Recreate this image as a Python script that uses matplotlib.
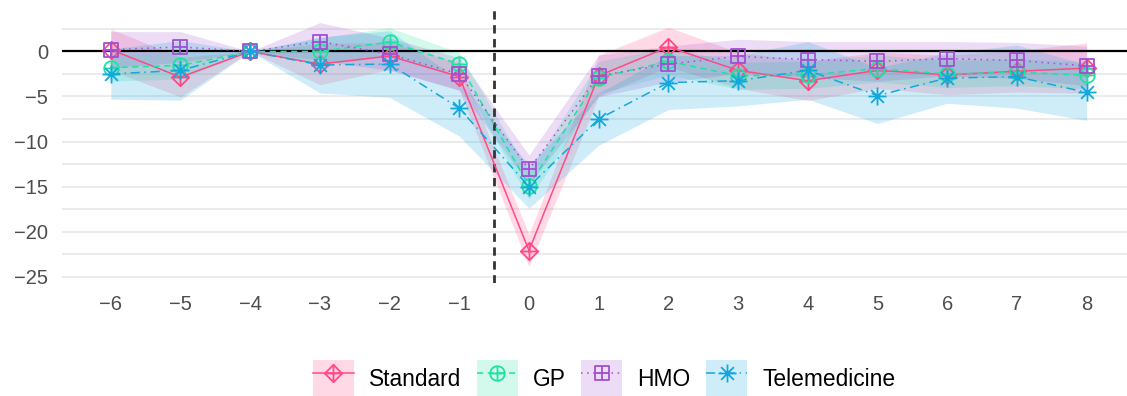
import numpy as np
import matplotlib
matplotlib.use("Agg")
import matplotlib.pyplot as plt
from matplotlib.path import Path
from matplotlib.patches import Patch
from matplotlib.lines import Line2D
from matplotlib.ticker import MultipleLocator

plt.rcParams["font.family"] = ["Liberation Sans", "DejaVu Sans"]

# Event time relative to the policy change
weeks = [-6, -5, -4, -3, -2, -1, 0, 1, 2, 3, 4, 5, 6, 7, 8]
x_labels = ["\u22126", "\u22125", "\u22124", "\u22123", "\u22122", "\u22121",
            "0", "1", "2", "3", "4", "5", "6", "7", "8"]

# Point estimates and confidence bounds per plan type
standard = [0.2, -2.85, 0.0, -1.4, -0.5, -2.8, -22.1, -2.7, 0.5, -2.1, -3.25, -2.1, -2.6, -2.2, -1.85]
standard_lo = [-2.1, -5.05, 0.0, -3.7, -2.0, -4.3, -23.9, -5.0, -1.7, -4.1, -5.45, -4.1, -4.8, -4.5, -4.65]
standard_hi = [2.5, -0.65, 0.0, 0.9, 1.0, -1.3, -20.3, -0.4, 2.7, -0.1, -1.05, -0.1, -0.4, 0.1, 0.95]

gp = [-1.8, -1.55, 0.0, 0.0, 1.05, -1.4, -14.9, -2.9, -1.1, -2.7, -2.6, -1.9, -2.5, -2.3, -2.65]
gp_lo = [-3.3, -3.05, 0.0, -1.5, -0.55, -2.65, -16.4, -4.7, -2.6, -4.2, -4.1, -3.4, -4.0, -3.8, -4.15]
gp_hi = [-0.3, -0.05, 0.0, 1.5, 2.65, -0.15, -13.4, -1.1, 0.4, -1.2, -1.1, -0.4, -1.0, -0.8, -1.15]

hmo = [0.2, 0.5, 0.0, 1.1, -0.3, -2.5, -13.1, -2.7, -1.4, -0.55, -0.9, -1.1, -0.8, -1.0, -1.6]
hmo_lo = [-1.8, -1.2, 0.0, -1.0, -2.1, -4.3, -14.7, -5.0, -3.4, -2.45, -2.9, -3.3, -2.7, -3.0, -3.8]
hmo_hi = [2.2, 2.2, 0.0, 3.2, 1.5, -0.7, -11.5, -0.4, 0.6, 1.35, 1.1, 1.1, 1.1, 1.0, 0.6]

tele = [-2.5, -2.1, 0.0, -1.5, -1.4, -6.3, -15.0, -7.5, -3.45, -3.25, -2.1, -4.9, -2.95, -2.8, -4.55]
tele_lo = [-5.3, -5.4, 0.0, -4.6, -5.1, -9.4, -17.4, -10.4, -6.45, -6.05, -5.3, -8.0, -5.75, -6.3, -7.65]
tele_hi = [0.3, 1.2, 0.0, 1.6, 2.3, -3.2, -12.6, -4.6, -0.45, -0.45, 1.1, -1.8, -0.15, 0.7, -1.45]

series_names = ["Standard", "GP", "HMO", "Telemedicine"]
colors = ["#FF4A86", "#1EE3A0", "#A050D0", "#12A8DD"]

# Open marker glyphs: diamond-plus, circle-plus, square-plus, asterisk
cross = Path([(-1, 0), (1, 0), (0, -1), (0, 1)],
             [Path.MOVETO, Path.LINETO, Path.MOVETO, Path.LINETO])
diamond = Path([(0, 1), (1, 0), (0, -1), (-1, 0), (0, 1)],
               [Path.MOVETO, Path.LINETO, Path.LINETO, Path.LINETO, Path.CLOSEPOLY])
square = Path([(-1, -1), (1, -1), (1, 1), (-1, 1), (-1, -1)],
              [Path.MOVETO, Path.LINETO, Path.LINETO, Path.LINETO, Path.CLOSEPOLY])
d = np.sqrt(0.5)
asterisk = Path([(-1, 0), (1, 0), (0, -1), (0, 1), (-d, -d), (d, d), (-d, d), (d, -d)],
                [Path.MOVETO, Path.LINETO] * 4)
markers = [Path.make_compound_path(diamond, cross),
           Path.make_compound_path(Path.unit_circle(), cross),
           Path.make_compound_path(square, cross),
           asterisk]
marker_sizes = [12.5, 10.5, 9.6, 13.0]
linestyles = ["-", (0, (4, 3)), (0, (1, 3)), (0, (6, 3, 1, 3))]

fig = plt.figure(figsize=(11.27, 3.96), dpi=100)
ax = fig.add_axes([62 / 1127, 1 - 283 / 396, 1 - 62 / 1127, (283 - 10) / 396])

data = [(standard, standard_lo, standard_hi),
        (gp, gp_lo, gp_hi),
        (hmo, hmo_lo, hmo_hi),
        (tele, tele_lo, tele_hi)]

for (vals, lo, hi), c in zip(data, colors):
    ax.fill_between(weeks, lo, hi, color=c, alpha=0.2, lw=0, zorder=2)

ax.axhline(0, color="black", lw=1.6, zorder=3)
ax.axvline(-0.5, color="#333333", lw=2.0, dashes=(3.0, 2.0), zorder=3)

handles = []
for (vals, lo, hi), c, m, ms, ls, name in zip(data, colors, markers, marker_sizes,
                                              linestyles, series_names):
    ax.plot(weeks, vals, color=c, lw=1.1, linestyle=ls, marker=m, markersize=ms,
            markerfacecolor="none", markeredgecolor=c, markeredgewidth=1.3, zorder=4)
    patch = Patch(facecolor=c, alpha=0.2, edgecolor="none")
    line = Line2D([], [], color=c, lw=1.1, linestyle=ls, marker=m, markersize=ms,
                  markerfacecolor="none", markeredgecolor=c, markeredgewidth=1.3)
    handles.append((patch, line))

ax.set_xlim(-6.7, 8.58)
ax.set_ylim(-25.7, 4.6)
ax.set_xticks(weeks)
ax.set_xticklabels(x_labels)
ax.yaxis.set_minor_locator(MultipleLocator(2.5))
ax.set_yticks([0, -5, -10, -15, -20, -25])
ax.set_yticklabels(["0", "\u22125", "\u221210", "\u221215", "\u221220", "\u221225"])

ax.grid(axis="y", which="both", color="#EBEBEB", lw=1.4, zorder=0)
ax.set_axisbelow(True)
for s in ax.spines.values():
    s.set_visible(False)
ax.tick_params(axis="both", which="both", length=0, labelsize=14.5, labelcolor="#4D4D4D")
ax.tick_params(axis="x", pad=9)
ax.tick_params(axis="y", pad=10)

fig.legend(handles=handles, labels=series_names, loc="center",
           bbox_to_anchor=(604 / 1127, 1 - 379 / 396), ncol=4, frameon=False,
           fontsize=16.4, handlelength=1.8, handleheight=2.2, handletextpad=0.65,
           columnspacing=0.7, borderpad=0, borderaxespad=0)

fig.savefig("out.png", dpi=100)
